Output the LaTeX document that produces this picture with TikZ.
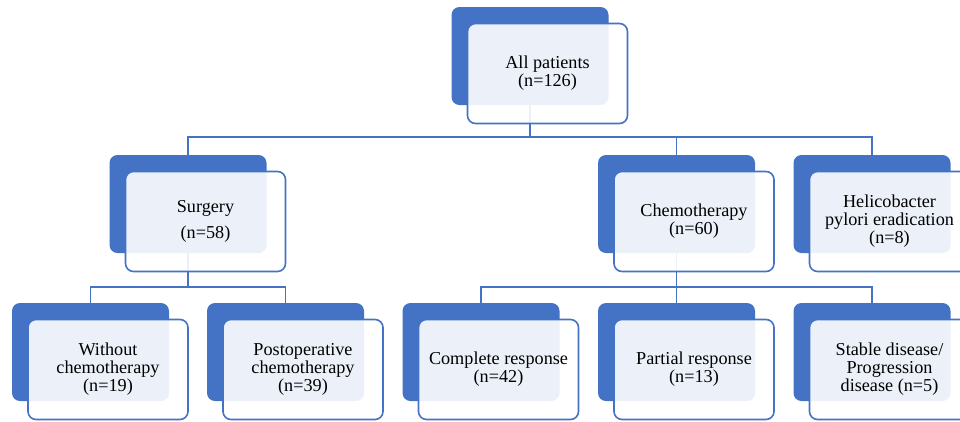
\documentclass[tikz,border=0pt]{standalone}
\usepackage{fontspec}
\setmainfont{Liberation Serif}
\definecolor{myblue}{HTML}{4472C4}
\tikzset{
  backbox/.style={fill=myblue, rounded corners=8pt, minimum width=157pt, minimum height=98pt, inner sep=0pt},
  frontbox/.style={draw=myblue, line width=1.6pt, fill=white, fill opacity=0.9, text opacity=1,
    rounded corners=8pt, minimum width=160pt, minimum height=100pt, inner sep=0pt,
    align=center, font=\fontsize{18.2}{18}\selectfont},
  conn/.style={draw=myblue, line width=1.6pt}
}
\begin{document}
\begin{tikzpicture}[x=1pt,y=-1pt]
\useasboundingbox (0,0) rectangle (960,421);
\clip (0,0) rectangle (960,421);
% back boxes
\node[backbox] (b0) at (530,56) {};
\node[backbox] (b1) at (188,204) {};
\node[backbox] (b2) at (676.5,204) {};
\node[backbox] (b3) at (872,204) {};
\node[backbox] (b4) at (90.5,352) {};
\node[backbox] (b5) at (285.5,352) {};
\node[backbox] (b6) at (481,352) {};
\node[backbox] (b7) at (676.5,352) {};
\node[backbox] (b8) at (872,352) {};
% connectors
\coordinate (j0) at (530,137);
\coordinate (j1) at (188,287);
\coordinate (j2) at (676.5,287);
\draw[conn] (b0.south) -- (j0);
\draw[conn] (b1.north) |- (j0) -| (b3.north);
\draw[conn] (j0 -| b2.north) -- (b2.north);
\draw[conn] (b1.south) -- (j1);
\draw[conn] (b4.north) |- (j1) -| (b5.north);
\draw[conn] (b2.south) -- (j2);
\draw[conn] (b6.north) |- (j2) -| (b8.north);
\draw[conn] (j2 -| b7.north) -- (b7.north);
% front boxes
\node[frontbox] (f0) at (547.5,73.5) {All patients\\(n=126)};
\node[frontbox] (f1) at (205.5,221.5) {Surgery\\[8pt](n=58)};
\node[frontbox] (f2) at (694,221.5) {Chemotherapy\\(n=60)};
\node[frontbox] (f3) at (889.5,221.5) {Helicobacter\\pylori eradication\\(n=8)};
\node[frontbox] (f4) at (108,369.5) {Without\\chemotherapy\\(n=19)};
\node[frontbox] (f5) at (303,369.5) {Postoperative\\chemotherapy\\(n=39)};
\node[frontbox] (f6) at (498.5,369.5) {Complete response\\(n=42)};
\node[frontbox] (f7) at (694,369.5) {Partial response\\(n=13)};
\node[frontbox] (f8) at (889.5,369.5) {Stable disease/\\Progression\\disease (n=5)};
\end{tikzpicture}
\end{document}
